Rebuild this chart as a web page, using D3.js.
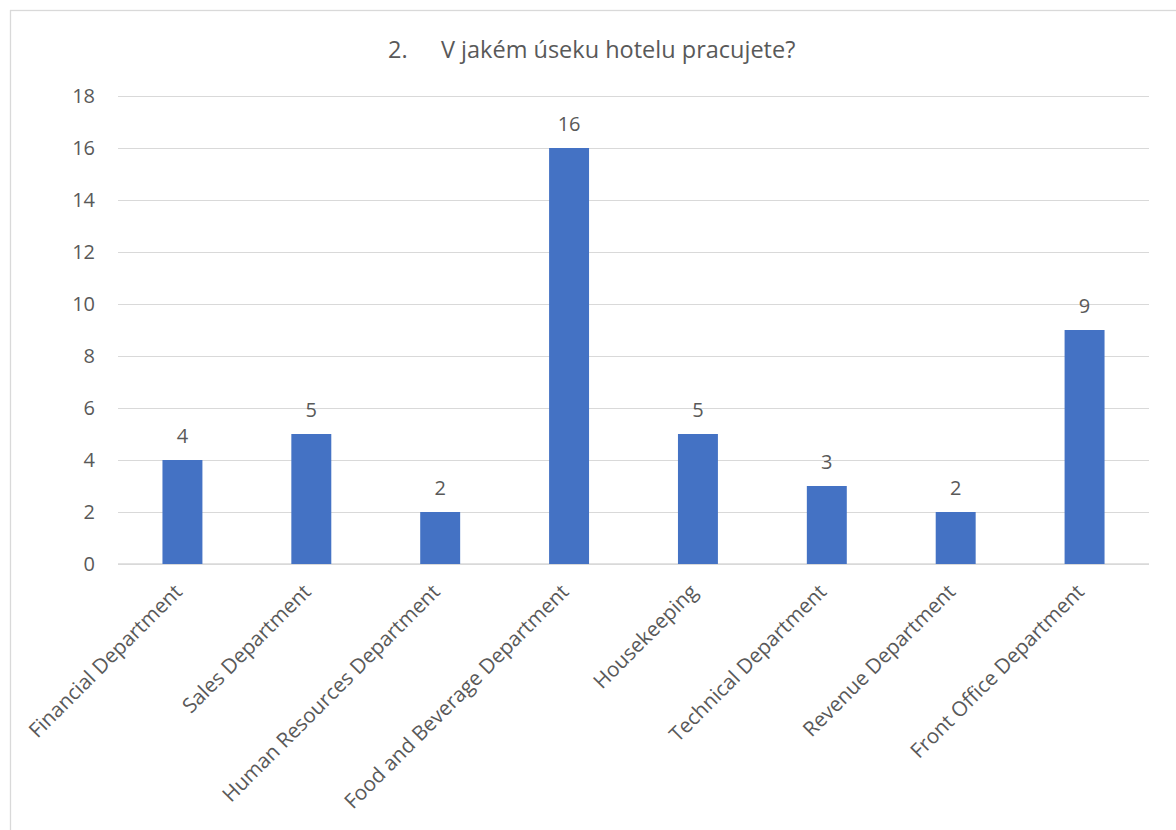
<!DOCTYPE html>
<html>
<head>
<meta charset="utf-8">
<script src="https://cdn.jsdelivr.net/npm/d3@7"></script>
<style>
  html, body { margin: 0; padding: 0; background: #ffffff; }
  svg { display: block; }
  text { font-family: "Open Sans", "Noto Sans", sans-serif; fill: #595959; }
</style>
</head>
<body>
<svg id="chart" width="1176" height="830"></svg>
<script>
// Survey question 2: department the respondents work in
const titleNumber = "2.";
const titleText = "V jakém úseku hotelu pracujete?";
const categories = [
  "Financial Department",
  "Sales Department",
  "Human Resources Department",
  "Food and Beverage Department",
  "Housekeeping",
  "Technical Department",
  "Revenue Department",
  "Front Office Department"
];
const counts = [4, 5, 2, 16, 5, 3, 2, 9];
const yTicks = [0, 2, 4, 6, 8, 10, 12, 14, 16, 18];

const W = 1176, H = 830;
const plot = { left: 118, right: 1149, top: 96, bottom: 564 };
const tickFont = 20;
const catFont = 20.6;
const titleFont = 23.5;

const svg = d3.select("#chart");

// outer chart frame
svg.append("rect")
  .attr("x", 10.5).attr("y", 10.5)
  .attr("width", W + 20).attr("height", H + 20)
  .attr("fill", "#ffffff")
  .attr("stroke", "#D9D9D9").attr("stroke-width", 1.3);

const x = d3.scaleBand()
  .domain(categories)
  .range([plot.left, plot.right])
  .paddingInner(0.69)
  .paddingOuter(0.345);

const y = d3.scaleLinear()
  .domain([0, 18])
  .range([plot.bottom, plot.top]);

// horizontal gridlines + value axis labels
const yAxis = d3.axisLeft(y)
  .tickValues(yTicks)
  .tickSize(-(plot.right - plot.left))
  .tickPadding(23)
  .tickFormat(d3.format("d"));

const gy = svg.append("g")
  .attr("transform", `translate(${plot.left},0)`)
  .call(yAxis);
gy.select(".domain").remove();
gy.selectAll(".tick line").attr("stroke", "#D9D9D9").attr("stroke-width", 1);
gy.selectAll(".tick text")
  .attr("font-size", tickFont)
  .style("font-family", '"Open Sans", sans-serif')
  .attr("fill", "#595959");

// category axis baseline
svg.append("line")
  .attr("x1", plot.left).attr("x2", plot.right)
  .attr("y1", y(0)).attr("y2", y(0))
  .attr("stroke", "#D9D9D9").attr("stroke-width", 1.3);

// bars
svg.append("g").selectAll("rect")
  .data(categories)
  .join("rect")
  .attr("x", d => x(d))
  .attr("width", x.bandwidth())
  .attr("y", (d, i) => y(counts[i]))
  .attr("height", (d, i) => y(0) - y(counts[i]))
  .attr("fill", "#4472C4");

// value labels above bars
svg.append("g").selectAll("text")
  .data(categories)
  .join("text")
  .attr("x", d => x(d) + x.bandwidth() / 2)
  .attr("y", (d, i) => y(counts[i]) - 17)
  .attr("text-anchor", "middle")
  .attr("font-size", tickFont)
  .text((d, i) => counts[i]);

// rotated category labels
const xAxis = d3.axisBottom(x).tickSize(0).tickPadding(0);
const gx = svg.append("g")
  .attr("transform", `translate(0,${plot.bottom})`)
  .call(xAxis);
gx.select(".domain").remove();
gx.selectAll(".tick text")
  .attr("font-size", catFont)
  .style("font-family", '"Open Sans", sans-serif')
  .attr("fill", "#595959")
  .attr("text-anchor", "end")
  .attr("dy", null)
  .attr("y", 0)
  .attr("transform", "translate(1,29) rotate(-45)");

// title
const title = svg.append("text")
  .attr("y", 58)
  .attr("font-size", titleFont);
title.append("tspan").attr("x", 388).text(titleNumber);
title.append("tspan").attr("x", 441).text(titleText);
</script>
</body>
</html>
